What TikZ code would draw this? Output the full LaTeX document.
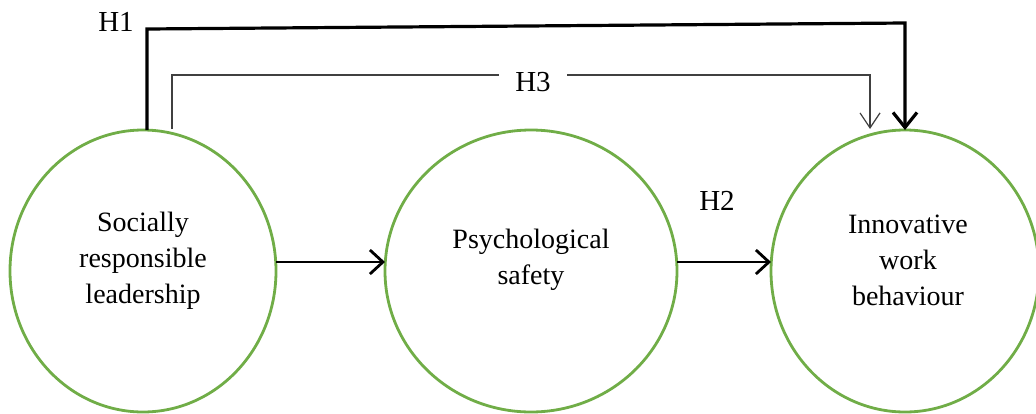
\documentclass[tikz,border=0pt]{standalone}
\usepackage{fontspec}
\setmainfont{Liberation Serif}
\usetikzlibrary{shapes.geometric,arrows.meta}
\definecolor{lgreen}{RGB}{112,173,71}
\definecolor{dgray}{RGB}{64,64,64}
\begin{document}
\begin{tikzpicture}[x=1pt,y=-1pt,
  var/.style={draw=lgreen,line width=2.8pt,ellipse,inner sep=0pt},
  lbl/.style={font=\fontsize{28}{36}\selectfont,align=center,inner sep=0pt},
  hlbl/.style={font=\fontsize{29}{30}\selectfont,inner sep=2pt},
  mainarrow/.style={line width=2.8pt,-{Straight Barb[length=13pt,width=24pt]}},
  thickarrow/.style={line width=3.2pt,-{Straight Barb[length=15pt,width=24pt]}},
  thinarrow/.style={draw=dgray,line width=1.2pt,-{Straight Barb[length=15pt,width=20pt]}}
]
\useasboundingbox (0,0) rectangle (1036,413);
\node[var,minimum width=266pt,minimum height=282pt] (srl) at (143,271) {};
\node[var,minimum width=292pt,minimum height=282pt] (ps) at (531,271) {};
\node[var,minimum width=268pt,minimum height=282pt] (iwb) at (905,271) {};
\node[lbl] (t1) at (143,261) {Socially\\responsible\\leadership};
\node[lbl] (t2) at (531,260) {Psychological\\safety};
\node[lbl] (t3) at (908,260) {Innovative\\work\\behaviour};
\coordinate (a1) at (276,262);
\coordinate (b1) at (385,262);
\coordinate (a2) at (677,262);
\coordinate (b2) at (771,262);
\draw[mainarrow] (a1) -- (b1);
\draw[mainarrow] (a2) -- (b2);
\node[hlbl] (h2) at (717,201) {H2};
% H1
\coordinate (s1) at (147,130);
\coordinate (e1) at (905,130);
\draw[thickarrow] (s1) -- (147,29) -- (905,23) -- (e1);
\node[hlbl] (h1) at (116,22) {H1};
% H3
\coordinate (s3) at (172,129);
\coordinate (e3) at (870,129);
\draw[thinarrow] (s3) -- (172,75) -- (870,75) -- (e3);
\node[hlbl,fill=white,inner xsep=16pt] (h3) at (533,82) {H3};
\end{tikzpicture}
\end{document}
